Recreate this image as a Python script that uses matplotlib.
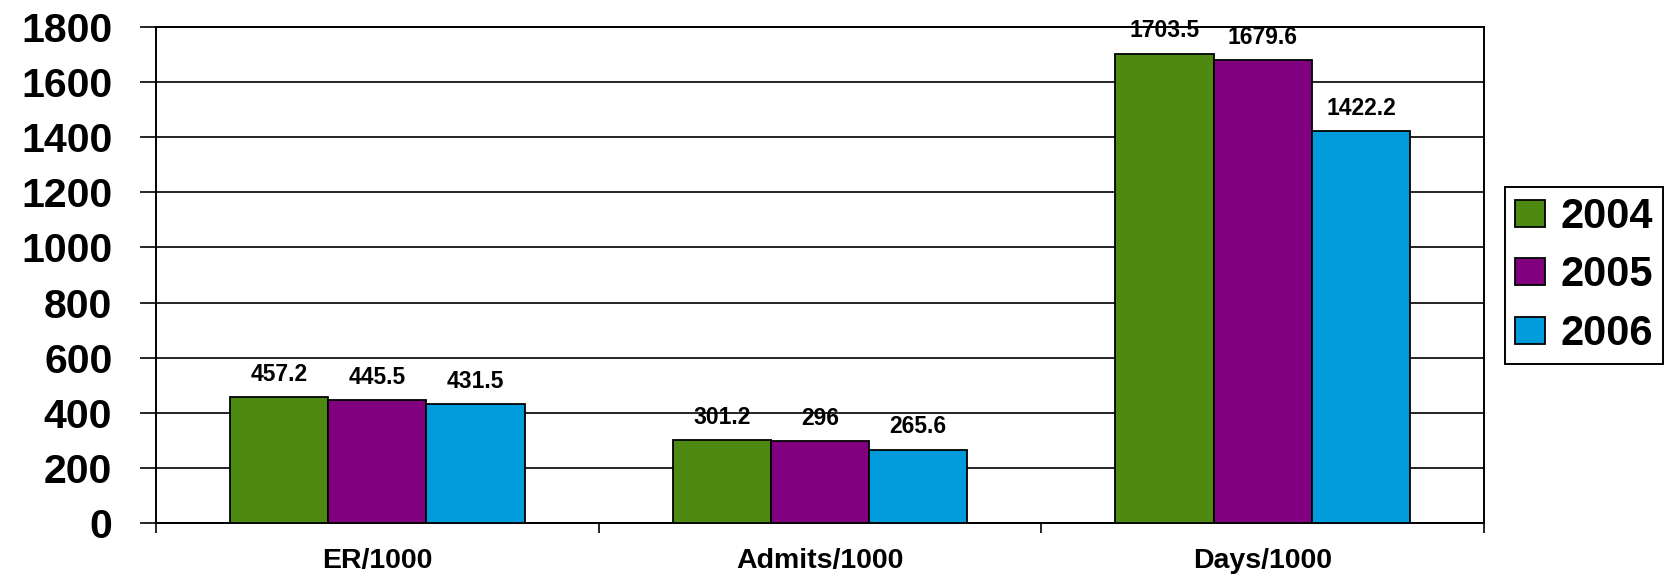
import matplotlib
matplotlib.use("Agg")
import matplotlib.pyplot as plt
import numpy as np

categories = ["ER/1000", "Admits/1000", "Days/1000"]
years = ["2004", "2005", "2006"]
values_2004 = [457.2, 301.2, 1703.5]
values_2005 = [445.5, 296, 1679.6]
values_2006 = [431.5, 265.6, 1422.2]
label_2004 = ["457.2", "301.2", "1703.5"]
label_2005 = ["445.5", "296", "1679.6"]
label_2006 = ["431.5", "265.6", "1422.2"]
yticks = [0, 200, 400, 600, 800, 1000, 1200, 1400, 1600, 1800]

colors = ["#4E8A12", "#800080", "#009BDA"]

plt.rcParams['font.family'] = ['Liberation Sans', 'DejaVu Sans']
plt.rcParams['font.weight'] = 'bold'

fig = plt.figure(figsize=(16.73, 5.80), dpi=100)
ax = fig.add_axes([156/1673, 1-523/580, (1484-156)/1673, (523-27)/580])

x = np.arange(len(categories))
w = 0.222
series = [values_2004, values_2005, values_2006]
labels = [label_2004, label_2005, label_2006]
handles = []
for i, (vals, labs) in enumerate(zip(series, labels)):
    bars = ax.bar(x + (i - 1) * w, vals, width=w, color=colors[i],
                  edgecolor="black", linewidth=1.3, zorder=3, label=years[i])
    handles.append(bars)
    for b, lab in zip(bars, labs):
        ax.annotate(lab, (b.get_x() + b.get_width() / 2, b.get_height()),
                    xytext=(0, 16.5), textcoords="offset points",
                    ha="center", va="center", fontsize=16.5, fontweight="bold",
                    zorder=4)

ax.set_xlim(-0.5, 2.5)
ax.set_ylim(0, 1800)
ax.set_yticks(yticks)
ax.set_yticklabels([str(t) for t in yticks], fontsize=29.5, fontweight="bold")
ax.yaxis.grid(True, color="black", linewidth=1.2, zorder=0)
ax.set_axisbelow(True)

ax.set_xticks(x)
ax.set_xticklabels(categories, fontsize=20.5, fontweight="bold")
ax.tick_params(axis="x", which="major", length=0, pad=18)
ax.set_xticks([-0.5, 0.5, 1.5, 2.5], minor=True)
ax.tick_params(axis="x", which="minor", length=7, width=1.2, direction="out")
ax.tick_params(axis="y", length=11.5, width=1.2, pad=20, direction="out")

for s in ax.spines.values():
    s.set_color("black")
    s.set_linewidth(1.4)

leg = fig.legend(handles=handles, labels=years, loc="upper left",
                 bbox_to_anchor=(1505/1673, 1-187/580), bbox_transform=fig.transFigure,
                 borderaxespad=0, prop={"weight": "bold", "size": 30},
                 handlelength=0.72, handleheight=0.62, handletextpad=0.36,
                 labelspacing=0.44, borderpad=0.24, fancybox=False,
                 edgecolor="black", framealpha=1)
leg.get_frame().set_linewidth(1.4)

fig.savefig("out.png", dpi=100)
